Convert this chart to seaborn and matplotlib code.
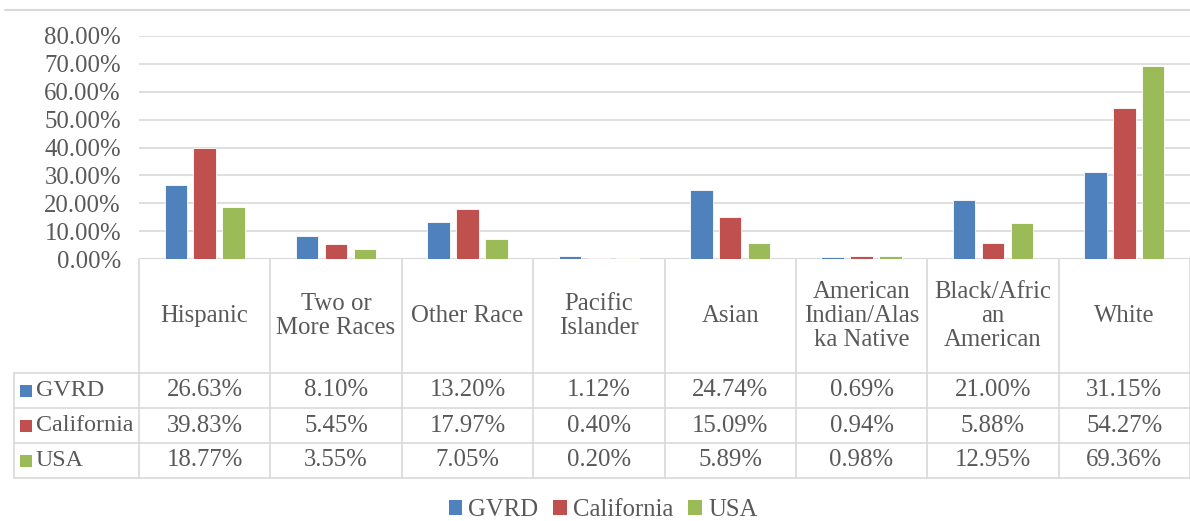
import matplotlib
matplotlib.use("Agg")
import matplotlib.pyplot as plt
import seaborn as sns
import pandas as pd
from matplotlib.patches import Rectangle
from matplotlib.transforms import blended_transform_factory

categories = ["Hispanic", "Two or\nMore Races", "Other Race", "Pacific\nIslander", "Asian",
              "American\nIndian/Alas\nka Native", "Black/Afric\nan\nAmerican", "White"]
series = ["GVRD", "California", "USA"]
gvrd = [26.63, 8.10, 13.20, 1.12, 24.74, 0.69, 21.00, 31.15]
california = [39.83, 5.45, 17.97, 0.40, 15.09, 0.94, 5.88, 54.27]
usa = [18.77, 3.55, 7.05, 0.20, 5.89, 0.98, 12.95, 69.36]
yticks = [0, 10, 20, 30, 40, 50, 60, 70, 80]
colors = ["#4F81BD", "#C0504D", "#9BBB59"]

values = {"GVRD": gvrd, "California": california, "USA": usa}
rows = []
for s in series:
    for c, v in zip(categories, values[s]):
        rows.append({"Category": c, "Series": s, "Value": v})
df = pd.DataFrame(rows)

sns.set_style("white")
plt.rcParams["font.family"] = ["Liberation Serif", "DejaVu Serif"]
TXT = "#595959"
GRID = "#D9D9D9"
FS = 17.8

W, H = 1190, 521
fig = plt.figure(figsize=(W / 100, H / 100), dpi=100)
ax_l, ax_r, ax_t, ax_b = 139, 1190, 36, 259
ax = fig.add_axes([ax_l / W, (H - ax_b) / H, (ax_r - ax_l) / W, (ax_b - ax_t) / H])

sns.barplot(data=df, x="Category", y="Value", hue="Series", palette=colors, saturation=1,
            width=0.66, gap=0.22, ax=ax, legend=False, edgecolor="white", linewidth=0.6)

ax.set_xlim(-0.5, len(categories) - 0.5)
ax.set_ylim(0, 80)
ax.set_yticks(yticks)
ax.set_yticklabels([f"{t:.2f}%" for t in yticks], color=TXT, fontsize=FS)
ax.tick_params(axis="y", length=0, pad=13)
ax.set_xticks([])
ax.set_xlabel("")
ax.set_ylabel("")
for sp in ax.spines.values():
    sp.set_visible(False)
for t in yticks[1:]:
    ax.axhline(t, color=GRID, lw=1.2, zorder=0)
ax.axhline(0, color=GRID, lw=1.5, zorder=0.5)

# Table
axh = ax_b - ax_t
def ya(ypix):
    return (ax_b - ypix) / axh
def xa(xpix):
    return (xpix - ax_l) / (ax_r - ax_l)

bt = blended_transform_factory(ax.transData, ax.transAxes)
row_y = [373, 408, 443, 478]
for i in range(len(categories) + 1):
    ax.plot([i - 0.5, i - 0.5], [ya(259), ya(478)], transform=bt, color=GRID, lw=1.2, clip_on=False)
for y in row_y:
    ax.plot([xa(14), 1.0], [ya(y), ya(y)], transform=ax.transAxes, color=GRID, lw=1.2, clip_on=False)
ax.plot([xa(14), xa(14)], [ya(373), ya(478)], transform=ax.transAxes, color=GRID, lw=1.2, clip_on=False)

for i, c in enumerate(categories):
    ax.text(i, ya(316), c, transform=bt, ha="center", va="center", fontsize=FS, color=TXT,
            linespacing=1.1, clip_on=False)

row_centers = [390.5, 425.5, 460.5]
for s, col, yc in zip(series, colors, row_centers):
    ax.add_patch(Rectangle((xa(20), ya(yc + 6)), 12 / (ax_r - ax_l), 12 / axh, transform=ax.transAxes,
                           facecolor=col, edgecolor="none", clip_on=False))
    ax.text(xa(36), ya(yc), s, transform=ax.transAxes, ha="left", va="center", fontsize=FS - 0.5,
            color=TXT, clip_on=False)
    for i, v in enumerate(values[s]):
        ax.text(i, ya(yc), f"{v:.2f}%", transform=bt, ha="center", va="center", fontsize=FS,
                color=TXT, clip_on=False)

# top border line
fig.add_artist(plt.Line2D([5 / W, 1.0], [(H - 10) / H, (H - 10) / H], color=GRID, lw=1.5))

# Legend
handles = [Rectangle((0, 0), 1, 1, facecolor=c, edgecolor="none") for c in colors]
fig.legend(handles, series, loc="center", bbox_to_anchor=(603 / W, (H - 510) / H), ncol=3,
           frameon=False, fontsize=FS, labelcolor=TXT, handlelength=0.55, handleheight=0.55,
           handletextpad=0.25, columnspacing=0.6)

fig.savefig("out.png", dpi=100)
